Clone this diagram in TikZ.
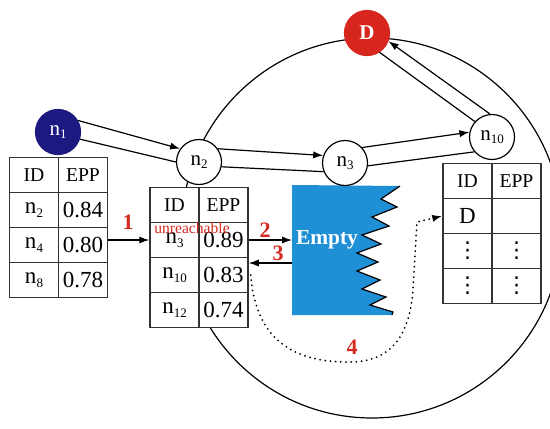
\documentclass[tikz,border=0pt]{standalone}
\usepackage{fontspec}
\setmainfont{Liberation Serif}
\newfontfamily\symfont{DejaVu Sans}
\usetikzlibrary{arrows.meta}
\definecolor{navy}{HTML}{1C1A80}
\definecolor{dred}{HTML}{D7261E}
\definecolor{eblue}{HTML}{1F8FD6}
\definecolor{lbl}{HTML}{D42A20}
\newcommand\nn[1]{n\raisebox{-0.35ex}{\fontsize{6.5}{6.5}\selectfont #1}}
\newcommand\vdt{{\symfont\fontsize{11}{11}\selectfont ⋮}}
\begin{document}
\begin{tikzpicture}[x=0.5pt,y=-0.5pt,
 nodec/.style={circle,draw,line width=0.6pt,minimum size=22.5pt,inner sep=0pt,font=\fontsize{10.5}{12}\selectfont},
 cell/.style={draw=black!80,fill=white,line width=0.75pt,minimum width=24.5pt,minimum height=17.5pt,inner sep=0pt,font=\fontsize{11.5}{12}\selectfont},
 hcell/.style={cell,font=\fontsize{9.8}{11}\selectfont},
 arr/.style={line width=0.6pt,-{Latex[length=5pt,width=3.6pt]}},
 pln/.style={line width=0.6pt},
 num/.style={text=lbl,font=\bfseries\fontsize{11}{12}\selectfont}]
\useasboundingbox (0,0) rectangle (550,428);
\clip (0,0) rectangle (550,428);
\draw[line width=0.6pt] (372,228) circle [radius=95pt];
% table 1
\node[hcell] (a11) at (34,175) {ID};
\node[hcell] (a12) at (83,175) {EPP};
\node[cell] (a21) at (34,210) {\nn{2}};
\node[cell] (a22) at (83,210) {0.84};
\node[cell] (a31) at (34,245) {\nn{4}};
\node[cell] (a32) at (83,245) {0.80};
\node[cell] (a41) at (34,280) {\nn{8}};
\node[cell] (a42) at (83,280) {0.78};
% table 2
\node[hcell] (b11) at (174.5,205) {ID};
\node[hcell] (b12) at (223.5,205) {EPP};
\node[cell] (b21) at (174.5,240) {\nn{3}};
\node[cell] (b22) at (223.5,240) {0.89};
\node[cell] (b31) at (174.5,275) {\nn{10}};
\node[cell] (b32) at (223.5,275) {0.83};
\node[cell] (b41) at (174.5,310) {\nn{12}};
\node[cell] (b42) at (223.5,310) {0.74};
% table 3
\node[hcell] (c11) at (467.5,181) {ID};
\node[hcell] (c12) at (516.5,181) {EPP};
\node[cell] (c21) at (467.5,216) {D};
\node[cell] (c22) at (516.5,216) {};
\node[cell] (c31) at (467.5,251) {\vdt};
\node[cell] (c32) at (516.5,251) {\vdt};
\node[cell] (c41) at (467.5,286) {\vdt};
\node[cell] (c42) at (516.5,286) {\vdt};
% empty box
\fill[eblue] (292,185) -- (400,186) -- (381,199) -- (397,207) -- (372,217) -- (389,226)
  -- (362,235) -- (381,244) -- (357,253) -- (378,262) -- (357,271) -- (380,280)
  -- (362,289) -- (386,297) -- (370,305) -- (393,312) -- (392,315) -- (292,315) -- cycle;
\draw[line width=0.6pt] (400,186) -- (381,199) -- (397,207) -- (372,217) -- (389,226)
  -- (362,235) -- (381,244) -- (357,253) -- (378,262) -- (357,271) -- (380,280)
  -- (362,289) -- (386,297) -- (370,305) -- (393,312) -- (392,315);
\coordinate (bx2) at (292,240);
\coordinate (bx3) at (292,263);
\node[text=white,font=\bfseries\fontsize{10.7}{12}\selectfont] (em) at (327,240) {Empty};
% circle nodes
\node[nodec,fill=navy,draw=navy,text=white] (n1) at (58,132) {\nn{1}};
\node[nodec,fill=white] (n2) at (199,162) {\nn{2}};
\node[nodec,fill=white] (n3) at (345,163) {\nn{3}};
\node[nodec,fill=white] (n10) at (492,137) {\nn{10}};
\node[nodec,fill=dred,draw=dred,text=white,font=\bfseries\fontsize{10.5}{12}\selectfont] (D) at (367,33) {D};
% double arrows
\draw[arr] (n1.30) -- (n2.145);
\draw[pln] (n1.-18) -- (n2.180);
\draw[arr] (n2.35) -- (n3.161);
\draw[pln] (n2.-12) -- (n3.-158);
\draw[arr] (n3.42) -- (n10.168);
\draw[pln] (n3.-7) -- (n10.-140);
\draw[arr] (n10.95) -- (D.-21);
\draw[pln] (n10.138) -- (D.-57);
% table arrows
\draw[arr] (a32.east |- b21.west) -- (b21.west);
\draw[arr] (b22.east) -- (bx2);
\draw[arr] (bx3) -- (b32.east |- bx3);
\draw[line width=1pt, line cap=round, dash pattern=on 0pt off 2.6pt, -{Latex[length=5pt,width=3.6pt]}]
  ([xshift=1pt]b32.east) .. controls (256,345) and (300,363) .. (352,362)
  .. controls (395,361) and (410,330) .. (413,290) -- (417,222) -- (c21.west);
% labels
\node[num] (l1) at (128,222) {1};
\node[num] (l2) at (265,230) {2};
\node[num] (l3) at (278,253) {3};
\node[num] (l4) at (352,347) {4};
\node[text=lbl,font=\fontsize{7.8}{9}\selectfont] (ur) at (192,228) {unreachable};
\end{tikzpicture}
\end{document}
